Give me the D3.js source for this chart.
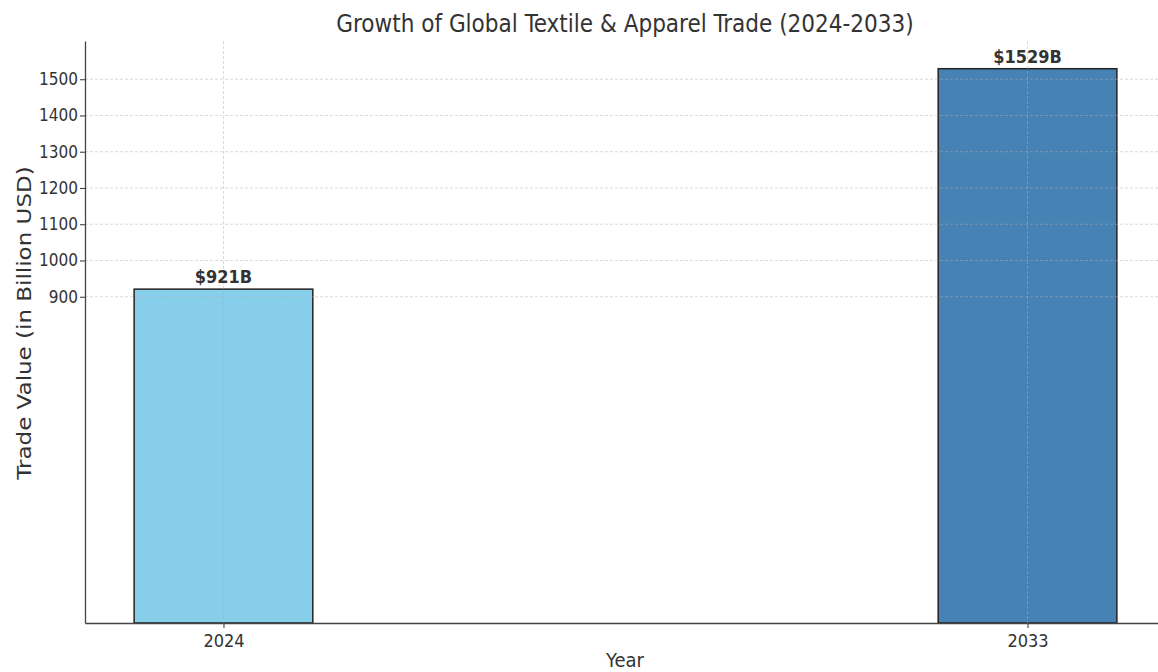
<!DOCTYPE html>
<html>
<head>
<meta charset="utf-8">
<script src="https://cdn.jsdelivr.net/npm/d3@7"></script>
<style>
  body { margin: 0; background: #fff; }
  text { fill: #333; }
</style>
</head>
<body>
<div id="chart"></div>
<script>
// chart data
const years = [2024, 2033];
const values = [921, 1529];
const barColors = ["#87CEEB", "#4682B4"];
const yTicks = [900, 1000, 1100, 1200, 1300, 1400, 1500];

const W = 1158, H = 672;
const margin = { top: 41, right: -8, bottom: 49, left: 85 };
const width = W - margin.left - margin.right;
const height = H - margin.top - margin.bottom;

const svg = d3.select("#chart")
    .append("svg")
    .attr("width", W)
    .attr("height", H);

const g = svg.append("g")
    .attr("transform", `translate(${margin.left},${margin.top})`);

// matplotlib-like linear x with 5% margins, bar width 2 years
const barW = 2;
const x0 = d3.min(years) - barW / 2, x1 = d3.max(years) + barW / 2;
const pad = (x1 - x0) * 0.05;
const x = d3.scaleLinear()
    .domain([x0 - pad, x1 + pad])
    .range([0, width]);

const y = d3.scaleLinear()
    .domain([0, d3.max(values) * 1.05])
    .range([height, 0]);

const data = years.map((yr, i) => ({ year: yr, value: values[i], color: barColors[i] }));

// bars
g.selectAll(".bar")
    .data(data)
    .enter().append("rect")
    .attr("class", "bar")
    .attr("x", d => x(d.year - barW / 2))
    .attr("y", d => y(d.value))
    .attr("width", d => x(d.year + barW / 2) - x(d.year - barW / 2))
    .attr("height", d => y(0) - y(d.value))
    .attr("fill", d => d.color)
    .attr("stroke", "#222")
    .attr("stroke-width", 1.5);

// grid (drawn above bars)
const grid = g.append("g").attr("class", "grid");
grid.selectAll(".hgrid")
    .data(yTicks)
    .enter().append("line")
    .attr("x1", 0).attr("x2", width)
    .attr("y1", d => y(d)).attr("y2", d => y(d))
    .attr("stroke", "#b0b0b0")
    .attr("stroke-opacity", 0.6)
    .attr("stroke-dasharray", "3,2")
    .attr("stroke-width", 0.8);
grid.selectAll(".vgrid")
    .data(years)
    .enter().append("line")
    .attr("x1", d => x(d)).attr("x2", d => x(d))
    .attr("y1", 0).attr("y2", height)
    .attr("stroke", "#b0b0b0")
    .attr("stroke-opacity", 0.6)
    .attr("stroke-dasharray", "3,2")
    .attr("stroke-width", 0.8);

// axes
const xAxis = g.append("g")
    .attr("transform", `translate(0,${height})`)
    .call(d3.axisBottom(x).tickValues(years).tickFormat(d3.format("d")).tickSize(5).tickSizeOuter(0));
const yAxis = g.append("g")
    .call(d3.axisLeft(y).tickValues(yTicks).tickFormat(d3.format("d")).tickSize(5).tickSizeOuter(0));

[xAxis, yAxis].forEach(a => {
    a.selectAll(".domain").attr("stroke", "#444").attr("stroke-width", 1.3);
    a.selectAll(".tick line").attr("stroke", "#444").attr("stroke-width", 1.1);
    a.selectAll(".tick text")
        .attr("fill", "#333")
        .style("font-family", "'DejaVu Sans Condensed', 'DejaVu Sans', sans-serif")
        .style("font-size", "17px");
});
xAxis.selectAll(".tick text").attr("dy", "0.9em").style("font-size", "18px");
yAxis.selectAll(".tick text").attr("x", -7);

// value labels
g.selectAll(".val")
    .data(data)
    .enter().append("text")
    .attr("x", d => x(d.year))
    .attr("y", d => y(d.value) - 6)
    .attr("text-anchor", "middle")
    .style("font-family", "'DejaVu Sans Condensed', 'DejaVu Sans', sans-serif")
    .style("font-weight", "bold")
    .style("font-size", "18px")
    .text(d => `$${d.value}B`);

// title
svg.append("text")
    .attr("x", 625)
    .attr("y", 32)
    .attr("text-anchor", "middle")
    .style("font-family", "'DejaVu Sans Condensed', 'DejaVu Sans', sans-serif")
    .style("font-size", "24px")
    .text("Growth of Global Textile & Apparel Trade (2024-2033)");

// axis labels
svg.append("text")
    .attr("x", 625)
    .attr("y", 667)
    .attr("text-anchor", "middle")
    .style("font-family", "'DejaVu Sans Condensed', 'DejaVu Sans', sans-serif")
    .style("font-size", "20px")
    .text("Year");

svg.append("text")
    .attr("transform", `translate(31,323) scale(0.88,1) rotate(-90)`)
    .attr("text-anchor", "middle")
    .style("font-family", "'DejaVu Sans', sans-serif")
    .style("font-size", "23px")
    .text("Trade Value (in Billion USD)");
</script>
</body>
</html>
